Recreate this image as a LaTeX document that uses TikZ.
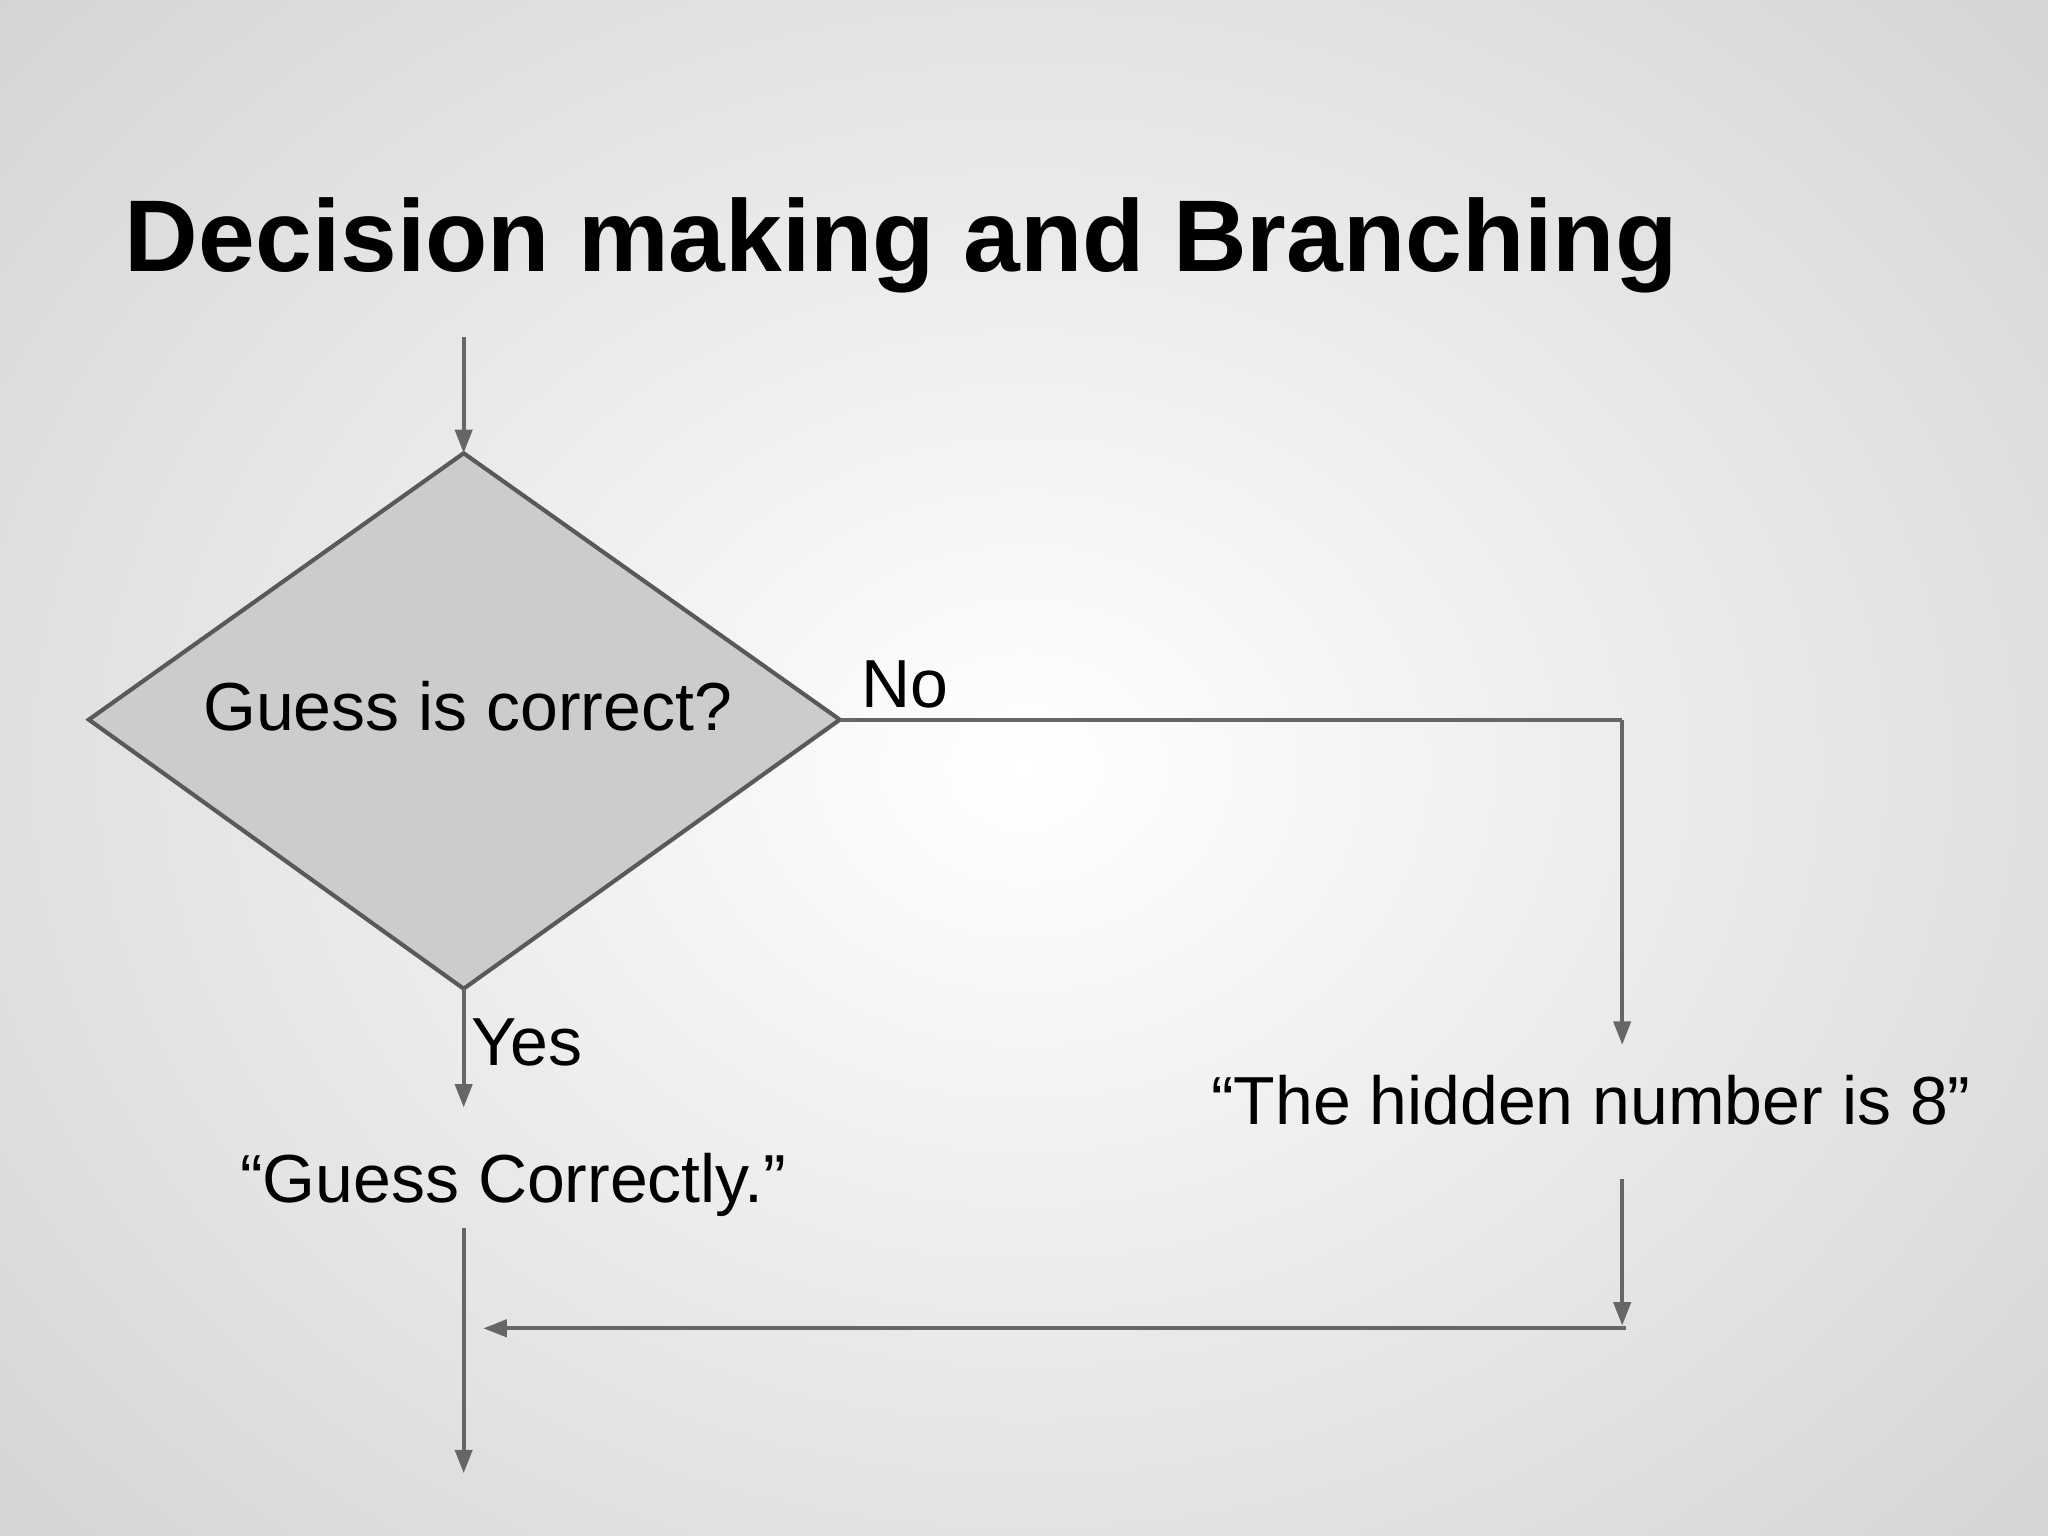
\documentclass[tikz,border=0pt]{standalone}
\usepackage{fontspec}
\setmainfont{Liberation Sans}
\usetikzlibrary{arrows.meta,shapes.geometric}
\begin{document}
\begin{tikzpicture}[x=0.01cm,y=-0.01cm,
  conn/.style={draw=black!60,line width=0.9pt,-{Triangle[length=0.18cm,width=0.13cm]}},
  plain/.style={draw=black!60,line width=0.9pt},
  lbl/.style={font=\fontsize{14.8pt}{18pt}\selectfont,inner sep=0pt}]
\useasboundingbox (0,0) rectangle (1568,1176);
\shade[inner color=white,outer color=black!17] (-300,-300) rectangle (1868,1476);
\node[anchor=base west,inner sep=0pt,font=\bfseries\fontsize{22.2pt}{27pt}\selectfont] (title) at (95,208) {Decision making and Branching};
\draw[fill=black!20,draw=black!65,line width=0.9pt] (355,347) coordinate (dt) -- (643,551) coordinate (dr) -- (355,757) coordinate (db) -- (68,551) coordinate (dl) -- cycle;
\node[lbl] (q) at (358,541) {Guess is correct?};
\coordinate (start) at (355,258);
\draw[conn] (start) -- (dt);
\node[lbl,anchor=base west] (no) at (659,542) {No};
\coordinate (corner) at (1242,551);
\coordinate (harr) at (1242,800);
\draw[plain] (dr) -- (corner);
\draw[conn] (corner) -- (harr);
\node[lbl] (hidden) at (1218,842) {“The hidden number is 8”};
\coordinate (yarr) at (355,848);
\draw[conn] (db) -- (yarr);
\node[lbl,anchor=base west] (yes) at (360,816) {Yes};
\node[lbl] (gc) at (393,907) {“Guess Correctly.”};
\coordinate (gcb) at (355,940);
\coordinate (endp) at (355,1128);
\draw[conn] (gcb) -- (endp);
\coordinate (hb) at (1242,903);
\coordinate (hd) at (1242,1015);
\draw[conn] (hb) -- (hd);
\coordinate (mr) at (1245,1017);
\coordinate (ml) at (370,1017);
\draw[conn] (mr) -- (ml);
\end{tikzpicture}
\end{document}
